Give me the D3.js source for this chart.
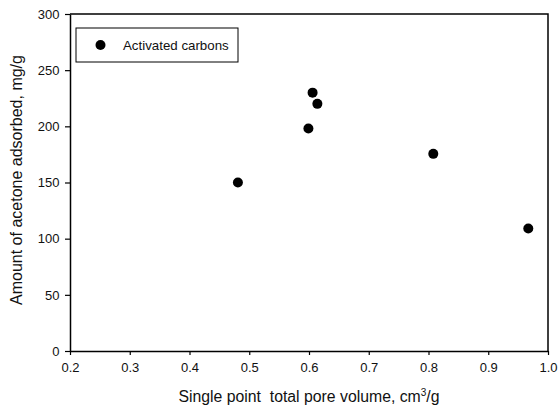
<!DOCTYPE html>
<html>
<head>
<meta charset="utf-8">
<script src="https://cdn.jsdelivr.net/npm/d3@7"></script>
<style>
  body { margin: 0; background: #fff; }
  svg { display: block; font-family: "Liberation Sans", Arial, sans-serif; }
</style>
</head>
<body>
<div id="chart"></div>
<script>
// pore volume (cm3/g) vs acetone adsorbed (mg/g)
const poreVolume = [0.481, 0.606, 0.614, 0.599, 0.808, 0.967];
const acetone = [150, 230, 220, 198, 175.5, 109];
const xTicks = [0.2, 0.3, 0.4, 0.5, 0.6, 0.7, 0.8, 0.9, 1.0];
const yTicks = [0, 50, 100, 150, 200, 250, 300];
const seriesName = "Activated carbons";

const width = 558;
const height = 414;
const margin = ({top: 14, right: 10, bottom: 63, left: 70});

const x = d3.scaleLinear()
  .domain([0.2, 1.0])
  .range([margin.left, width - margin.right]);

const y = d3.scaleLinear()
  .domain([0, 300])
  .range([height - margin.bottom, margin.top]);

const svg = d3.select("#chart").append("svg")
  .attr("width", width)
  .attr("height", height);

// frame (top & right)
svg.append("path")
  .attr("fill", "none")
  .attr("stroke", "#000")
  .attr("stroke-width", 1.5)
  .attr("d", `M${x(0.2)},${y(300)}H${x(1.0)}V${y(0)}`);

const xAxis = g => g
  .attr("transform", `translate(0,${y(0)})`)
  .call(d3.axisBottom(x).tickValues(xTicks).tickFormat(d3.format(".1f")).tickSize(4).tickSizeOuter(0))
  .call(g => g.select(".domain").attr("stroke-width", 1.5))
  .call(g => g.selectAll(".tick line").attr("stroke-width", 1.2))
  .call(g => g.selectAll(".tick text").attr("font-size", 13).attr("fill", "#111").attr("dy", "1.05em"));

const yAxis = g => g
  .attr("transform", `translate(${x(0.2)},0)`)
  .call(d3.axisLeft(y).tickValues(yTicks).tickSize(5).tickSizeOuter(0))
  .call(g => g.select(".domain").attr("stroke-width", 1.5))
  .call(g => g.selectAll(".tick line").attr("stroke-width", 1.2))
  .call(g => g.selectAll(".tick text").attr("font-size", 13).attr("fill", "#111").attr("x", -10.5));

svg.append("g").call(xAxis).attr("font-family", null);
svg.append("g").call(yAxis).attr("font-family", null);

// points
svg.append("g")
  .selectAll("circle")
  .data(poreVolume.map((v, i) => [v, acetone[i]]))
  .join("circle")
    .attr("cx", d => x(d[0]))
    .attr("cy", d => y(d[1]))
    .attr("r", 5)
    .attr("fill", "#000");

// legend
const legend = svg.append("g")
  .attr("transform", `translate(${x(0.2) + 6},${y(300) + 14})`);

legend.append("rect")
  .attr("width", 162)
  .attr("height", 34)
  .attr("fill", "#fff")
  .attr("stroke", "#000")
  .attr("stroke-width", 1);

legend.append("circle")
  .attr("cx", 24.5)
  .attr("cy", 17)
  .attr("r", 5)
  .attr("fill", "#000");

legend.append("text")
  .attr("x", 47)
  .attr("y", 21.8)
  .attr("font-size", 13.3)
  .attr("fill", "#111")
  .text(seriesName);

// axis titles
svg.append("text")
  .attr("x", (x(0.2) + x(1.0)) / 2)
  .attr("y", 402)
  .attr("text-anchor", "middle")
  .attr("font-size", 15.8)
  .attr("fill", "#111")
  .attr("xml:space", "preserve")
  .text("Single point  total pore volume, cm")
  .append("tspan")
    .attr("font-size", 10)
    .attr("dy", -6)
    .text("3")
  .select(function() { return this.parentNode; })
  .append("tspan")
    .attr("dy", 6)
    .text("/g");

svg.append("text")
  .attr("transform", `translate(22,180) rotate(-90)`)
  .attr("text-anchor", "middle")
  .attr("font-size", 16)
  .attr("fill", "#111")
  .text("Amount of acetone adsorbed, mg/g");
</script>
</body>
</html>
